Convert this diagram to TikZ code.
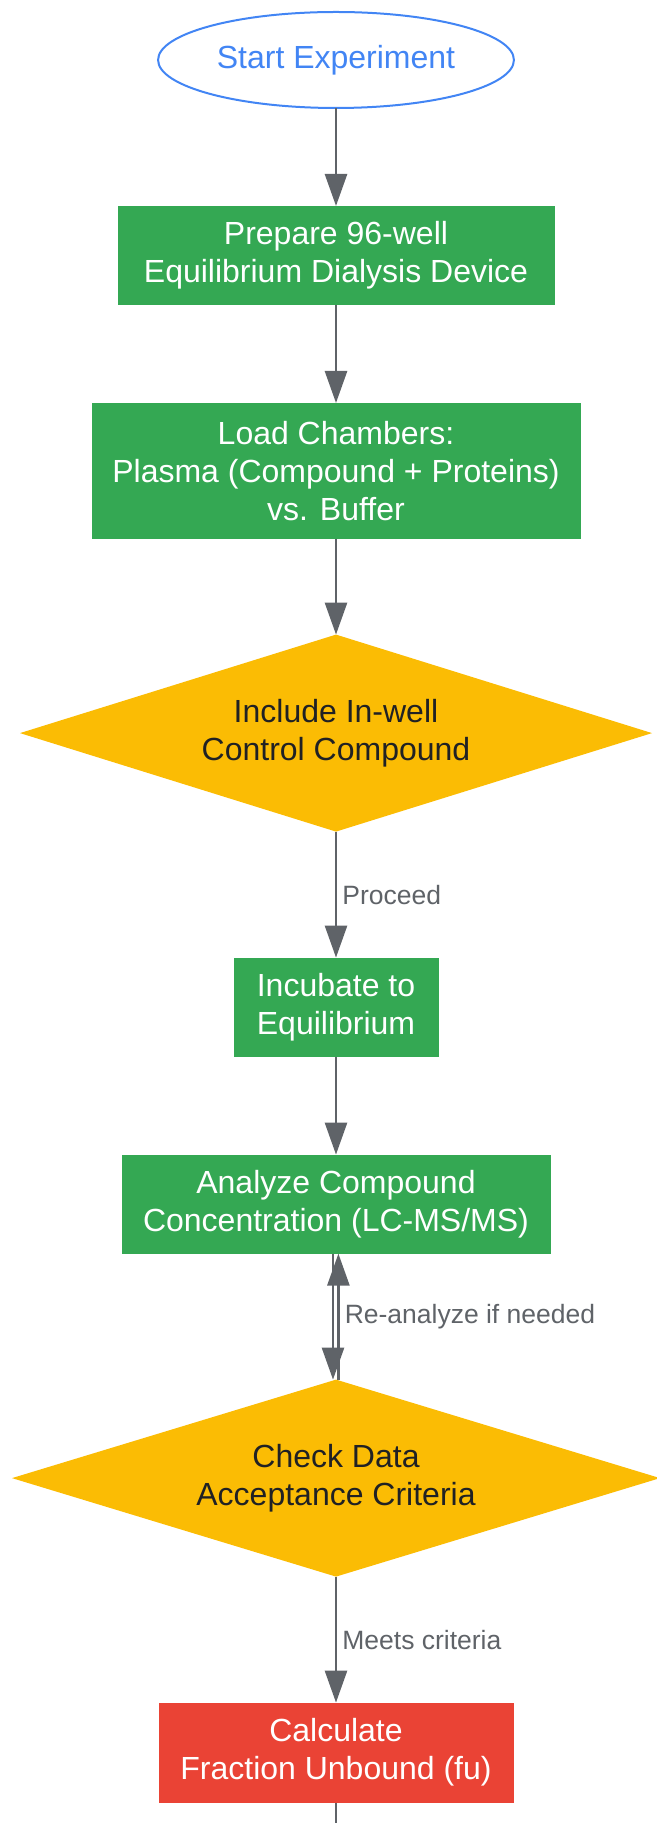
\documentclass[tikz,border=0pt]{standalone}
\usepackage{xcolor}
\usepackage{fontspec}
\setmainfont{Liberation Sans}
\usepackage{tikz}
\usetikzlibrary{positioning,shapes.geometric,arrows.meta}
\definecolor{ggreen}{HTML}{34A853}
\definecolor{gyellow}{HTML}{FBBC04}
\definecolor{gred}{HTML}{EA4335}
\definecolor{gblue}{HTML}{4285F4}
\definecolor{ggray}{HTML}{5F6368}
\definecolor{gdark}{HTML}{202124}

\begin{document}
\begin{tikzpicture}[x=0.5pt, y=-0.5pt, node distance={49pt},
    txt/.style = {align=center, outer sep=0pt, font=\fontsize{16}{19}\selectfont},
    main/.style = {txt, rectangle, fill=ggreen, text=white, minimum height=49.5pt, inner sep=0pt},
    term/.style = {txt, ellipse, draw=gblue, line width=1pt, text=gblue, minimum width=177pt, minimum height=48pt},
    dec/.style = {txt, diamond, fill=gyellow, text=gdark, aspect=3.2, minimum width=316pt, minimum height=98.5pt, inner sep=0pt},
    lbl/.style = {right, text=ggray, inner sep=2.5pt, font=\fontsize{13.25}{15}\selectfont},
    flow/.style = {draw=ggray, line width=1.35pt, -{Triangle[length=16pt,width=11pt]}}]
    \useasboundingbox (0,0) rectangle (657,1823);
    \node[term] (1) at (336,60) {Start Experiment};
    \node[main, minimum width=218.5pt] (2) [below =of 1] {Prepare 96-well\\Equilibrium Dialysis Device};
    \node[main, minimum width=244.5pt, minimum height=68pt] (3) [below =of 2] {Load Chambers:\\Plasma (Compound + Proteins)\\vs. Buffer};
    \node[dec] (4) [below =47.8pt of 3] {Include In-well\\Control Compound};
    \node[main, minimum width=102.5pt] (5) [below =63pt of 4] {Incubate to\\Equilibrium};
    \node[main, minimum width=214.5pt] (6) [below =of 5] {Analyze Compound\\Concentration (LC-MS/MS)};
    \node[dec, minimum width=324pt] (7) [below =63pt of 6] {Check Data\\Acceptance Criteria};
    \node[main, fill=gred, minimum width=177.5pt, minimum height=50pt] (8) [below =63pt of 7] {Calculate\\Fraction Unbound (fu)};
    \coordinate[below =12pt of 8] (9);
    \draw[flow] (1) -- (2);
    \draw[flow] (2) -- (3);
    \draw[flow] (3) -- (4);
    \draw[flow] (4) -- node[lbl] {Proceed} (5);
    \draw[flow] (5) -- (6);
    \draw[flow] ([xshift=-1.5pt]6.south) -- ([xshift=-1.5pt]7.north);
    \draw[flow] ([xshift=1.2pt]7.north) -- node[lbl] {Re-analyze if needed} ([xshift=1.2pt]6.south);
    \draw[flow] (7) -- node[lbl] {Meets criteria} (8);
    \draw[draw=ggray, line width=1.35pt] (8) -- (9);
\end{tikzpicture}
\end{document}
